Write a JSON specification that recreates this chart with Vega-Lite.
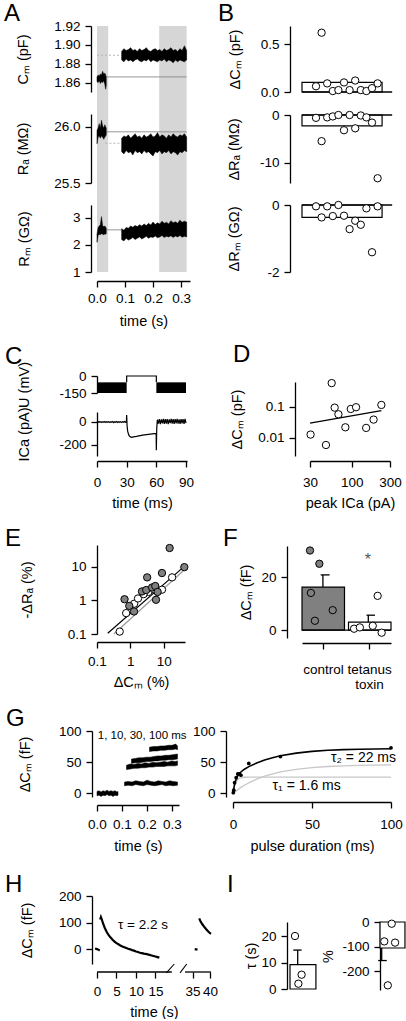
{
"$schema":"https://vega.github.io/schema/vega-lite/v6.json",
"background":"white",
"padding":{"left":4,"top":2,"right":0,"bottom":0},
"autosize":{"type":"pad"},
"spacing":0,
"resolve":{"scale":{"color":"independent","fill":"independent","strokeDash":"independent"}},
"config":{
 "font":"Liberation Sans",
 "view":{"stroke":null},
 "axis":{"grid":false,"domainColor":"black","tickColor":"black","labelColor":"black","titleColor":"black","labelFontSize":13.5,"titleFontSize":14.5,"titleFontWeight":"normal","tickSize":6,"labelPadding":5,"domainWidth":1.3,"tickWidth":1.3,"labelFlush":false},
 "title":{"fontSize":24,"fontWeight":"normal","anchor":"start","frame":"group","offset":0,"color":"black","baseline":"alphabetic"}
},
"datasets":{
 "aShade":[{"t":0,"t2":0.04},{"t":0.222,"t2":0.32}],
 "aRef":[
  {"p":"Cm","s":"solid","t":0.033,"v":1.866},{"p":"Cm","s":"solid","t":0.32,"v":1.866},
  {"p":"Cm","s":"dot","t":0,"v":1.889},{"p":"Cm","s":"dot","t":0.088,"v":1.889},
  {"p":"Ra","s":"solid","t":0.033,"v":25.957},{"p":"Ra","s":"solid","t":0.32,"v":25.957},
  {"p":"Ra","s":"dot","t":0.03,"v":25.855},{"p":"Ra","s":"dot","t":0.088,"v":25.855},
  {"p":"Rm","s":"solid","t":0.033,"v":2.56},{"p":"Rm","s":"solid","t":0.088,"v":2.56}],
 "aCm":[
  {"s":1,"t":0,"lo":1.861,"hi":1.866},{"s":1,"t":0.004,"lo":1.86,"hi":1.868},{"s":1,"t":0.008,"lo":1.862,"hi":1.867},{"s":1,"t":0.012,"lo":1.859,"hi":1.869},{"s":1,"t":0.016,"lo":1.861,"hi":1.868},{"s":1,"t":0.02,"lo":1.86,"hi":1.872},{"s":1,"t":0.024,"lo":1.862,"hi":1.869},{"s":1,"t":0.028,"lo":1.858,"hi":1.87},{"s":1,"t":0.031,"lo":1.853,"hi":1.868},{"s":1,"t":0.033,"lo":1.857,"hi":1.866},
  {"s":2,"t":0.088,"lo":1.884,"hi":1.893},{"s":2,"t":0.096,"lo":1.882,"hi":1.896},{"s":2,"t":0.104,"lo":1.885,"hi":1.894},{"s":2,"t":0.112,"lo":1.883,"hi":1.895},{"s":2,"t":0.12,"lo":1.884,"hi":1.897},{"s":2,"t":0.128,"lo":1.882,"hi":1.894},{"s":2,"t":0.136,"lo":1.884,"hi":1.895},{"s":2,"t":0.144,"lo":1.885,"hi":1.893},{"s":2,"t":0.152,"lo":1.883,"hi":1.896},{"s":2,"t":0.16,"lo":1.882,"hi":1.894},{"s":2,"t":0.168,"lo":1.884,"hi":1.895},{"s":2,"t":0.176,"lo":1.883,"hi":1.897},{"s":2,"t":0.184,"lo":1.885,"hi":1.894},{"s":2,"t":0.192,"lo":1.882,"hi":1.893},{"s":2,"t":0.2,"lo":1.884,"hi":1.895},{"s":2,"t":0.208,"lo":1.883,"hi":1.896},{"s":2,"t":0.216,"lo":1.882,"hi":1.894},{"s":2,"t":0.224,"lo":1.884,"hi":1.895},{"s":2,"t":0.232,"lo":1.883,"hi":1.893},{"s":2,"t":0.24,"lo":1.885,"hi":1.896},{"s":2,"t":0.248,"lo":1.882,"hi":1.894},{"s":2,"t":0.256,"lo":1.884,"hi":1.895},{"s":2,"t":0.264,"lo":1.883,"hi":1.897},{"s":2,"t":0.272,"lo":1.881,"hi":1.894},{"s":2,"t":0.28,"lo":1.884,"hi":1.895},{"s":2,"t":0.288,"lo":1.882,"hi":1.893},{"s":2,"t":0.296,"lo":1.884,"hi":1.896},{"s":2,"t":0.304,"lo":1.883,"hi":1.894},{"s":2,"t":0.312,"lo":1.882,"hi":1.899},{"s":2,"t":0.32,"lo":1.884,"hi":1.894}],
 "aRa":[
  {"s":1,"t":0,"lo":25.85,"hi":25.97},{"s":1,"t":0.004,"lo":25.91,"hi":25.99},{"s":1,"t":0.008,"lo":25.92,"hi":26.03},{"s":1,"t":0.012,"lo":25.9,"hi":25.99},{"s":1,"t":0.016,"lo":25.92,"hi":26.06},{"s":1,"t":0.02,"lo":25.91,"hi":26.01},{"s":1,"t":0.024,"lo":25.89,"hi":25.99},{"s":1,"t":0.028,"lo":25.91,"hi":26.02},{"s":1,"t":0.031,"lo":25.92,"hi":26.0},{"s":1,"t":0.033,"lo":25.93,"hi":25.99},
  {"s":2,"t":0.088,"lo":25.78,"hi":25.9},{"s":2,"t":0.096,"lo":25.76,"hi":25.92},{"s":2,"t":0.104,"lo":25.79,"hi":25.91},{"s":2,"t":0.112,"lo":25.77,"hi":25.93},{"s":2,"t":0.12,"lo":25.78,"hi":25.9},{"s":2,"t":0.128,"lo":25.75,"hi":25.92},{"s":2,"t":0.136,"lo":25.79,"hi":25.94},{"s":2,"t":0.144,"lo":25.77,"hi":25.91},{"s":2,"t":0.152,"lo":25.78,"hi":25.92},{"s":2,"t":0.16,"lo":25.76,"hi":25.9},{"s":2,"t":0.168,"lo":25.79,"hi":25.93},{"s":2,"t":0.176,"lo":25.77,"hi":25.91},{"s":2,"t":0.184,"lo":25.78,"hi":25.92},{"s":2,"t":0.192,"lo":25.76,"hi":25.94},{"s":2,"t":0.2,"lo":25.74,"hi":25.91},{"s":2,"t":0.208,"lo":25.78,"hi":25.92},{"s":2,"t":0.216,"lo":25.77,"hi":25.95},{"s":2,"t":0.224,"lo":25.79,"hi":25.91},{"s":2,"t":0.232,"lo":25.76,"hi":25.93},{"s":2,"t":0.24,"lo":25.78,"hi":25.92},{"s":2,"t":0.248,"lo":25.77,"hi":25.9},{"s":2,"t":0.256,"lo":25.79,"hi":25.93},{"s":2,"t":0.264,"lo":25.76,"hi":25.91},{"s":2,"t":0.272,"lo":25.78,"hi":25.94},{"s":2,"t":0.28,"lo":25.77,"hi":25.92},{"s":2,"t":0.288,"lo":25.75,"hi":25.91},{"s":2,"t":0.296,"lo":25.78,"hi":25.93},{"s":2,"t":0.304,"lo":25.77,"hi":25.92},{"s":2,"t":0.312,"lo":25.79,"hi":25.94},{"s":2,"t":0.32,"lo":25.78,"hi":25.91}],
 "aRm":[
  {"s":1,"t":0,"lo":2.1,"hi":2.4},{"s":1,"t":0.004,"lo":2.35,"hi":2.65},{"s":1,"t":0.008,"lo":2.4,"hi":2.7},{"s":1,"t":0.012,"lo":2.38,"hi":2.75},{"s":1,"t":0.016,"lo":2.42,"hi":3.05},{"s":1,"t":0.02,"lo":2.4,"hi":2.72},{"s":1,"t":0.024,"lo":2.38,"hi":2.68},{"s":1,"t":0.028,"lo":2.41,"hi":2.7},{"s":1,"t":0.031,"lo":2.4,"hi":2.66},{"s":1,"t":0.033,"lo":2.42,"hi":2.62},
  {"s":2,"t":0.088,"lo":2.2,"hi":2.6},{"s":2,"t":0.096,"lo":2.15,"hi":2.55},{"s":2,"t":0.104,"lo":2.25,"hi":2.65},{"s":2,"t":0.112,"lo":2.18,"hi":2.62},{"s":2,"t":0.12,"lo":2.22,"hi":2.7},{"s":2,"t":0.128,"lo":2.28,"hi":2.66},{"s":2,"t":0.136,"lo":2.2,"hi":2.72},{"s":2,"t":0.144,"lo":2.25,"hi":2.68},{"s":2,"t":0.152,"lo":2.3,"hi":2.75},{"s":2,"t":0.16,"lo":2.22,"hi":2.7},{"s":2,"t":0.168,"lo":2.27,"hi":2.78},{"s":2,"t":0.176,"lo":2.32,"hi":2.72},{"s":2,"t":0.184,"lo":2.25,"hi":2.8},{"s":2,"t":0.192,"lo":2.3,"hi":2.74},{"s":2,"t":0.2,"lo":2.28,"hi":2.85},{"s":2,"t":0.208,"lo":2.33,"hi":2.76},{"s":2,"t":0.216,"lo":2.27,"hi":2.82},{"s":2,"t":0.224,"lo":2.3,"hi":2.78},{"s":2,"t":0.232,"lo":2.35,"hi":2.88},{"s":2,"t":0.24,"lo":2.28,"hi":2.8},{"s":2,"t":0.248,"lo":2.32,"hi":2.84},{"s":2,"t":0.256,"lo":2.3,"hi":2.78},{"s":2,"t":0.264,"lo":2.34,"hi":2.9},{"s":2,"t":0.272,"lo":2.28,"hi":2.82},{"s":2,"t":0.28,"lo":2.33,"hi":2.86},{"s":2,"t":0.288,"lo":2.3,"hi":2.8},{"s":2,"t":0.296,"lo":2.35,"hi":2.92},{"s":2,"t":0.304,"lo":2.29,"hi":2.84},{"s":2,"t":0.312,"lo":2.32,"hi":2.88},{"s":2,"t":0.32,"lo":2.3,"hi":2.85}],
 "bBar":[{"p":"Cm","x0":-1.5,"x1":12.8,"v":0.1},{"p":"Ra","x0":-1.5,"x1":12.8,"v":-2.3},{"p":"Rm","x0":-1.5,"x1":12.8,"v":-0.37}],
 "bBase":[{"p":"Cm","x0":-1.5,"x1":14.6},{"p":"Ra","x0":-1.5,"x1":14.6},{"p":"Rm","x0":-1.5,"x1":14.6}],
 "bPts":[
  {"p":"Cm","i":1,"v":0.06},{"p":"Cm","i":2,"v":0.62},{"p":"Cm","i":3,"v":0.09},{"p":"Cm","i":4,"v":0.01},{"p":"Cm","i":5,"v":0.02},{"p":"Cm","i":6,"v":0.1},{"p":"Cm","i":7,"v":0.02},{"p":"Cm","i":8,"v":0.12},{"p":"Cm","i":9,"v":0.02},{"p":"Cm","i":10,"v":0.01},{"p":"Cm","i":11,"v":0.04},{"p":"Cm","i":12,"v":0.09},
  {"p":"Ra","i":1,"v":-0.6},{"p":"Ra","i":2,"v":-5.5},{"p":"Ra","i":3,"v":-0.5},{"p":"Ra","i":4,"v":-0.3},{"p":"Ra","i":5,"v":0},{"p":"Ra","i":6,"v":-3.2},{"p":"Ra","i":7,"v":0},{"p":"Ra","i":8,"v":-2.8},{"p":"Ra","i":9,"v":-0.1},{"p":"Ra","i":10,"v":-0.5},{"p":"Ra","i":11,"v":-1.6},{"p":"Ra","i":12,"v":-13.3},
  {"p":"Rm","i":1,"v":-0.04},{"p":"Rm","i":2,"v":-0.37},{"p":"Rm","i":3,"v":-0.04},{"p":"Rm","i":4,"v":-0.33},{"p":"Rm","i":5,"v":0},{"p":"Rm","i":6,"v":-0.32},{"p":"Rm","i":7,"v":-0.72},{"p":"Rm","i":8,"v":-0.47},{"p":"Rm","i":9,"v":-0.59},{"p":"Rm","i":10,"v":-0.1},{"p":"Rm","i":11,"v":-1.41},{"p":"Rm","i":12,"v":-0.04}],
 "cU":[{"s":1,"t":0,"lo":-150,"hi":-56},{"s":1,"t":30,"lo":-150,"hi":-56},{"s":2,"t":60,"lo":-150,"hi":-56},{"s":2,"t":90,"lo":-150,"hi":-56}],
 "cPulse":[{"k":1,"t":30,"v":-56},{"k":2,"t":30,"v":0},{"k":3,"t":60,"v":0},{"k":4,"t":60,"v":-56}],
 "cI":[{"t":0,"v":3},{"t":1,"v":-4},{"t":2,"v":4},{"t":3,"v":-3},{"t":4,"v":2},{"t":5,"v":-5},{"t":6,"v":3},{"t":7,"v":-2},{"t":8,"v":4},{"t":9,"v":-4},{"t":10,"v":2},{"t":11,"v":-3},{"t":12,"v":3},{"t":13,"v":-4},{"t":14,"v":2},{"t":15,"v":-3},{"t":16,"v":4},{"t":17,"v":-5},{"t":18,"v":2},{"t":19,"v":-3},{"t":20,"v":4},{"t":21,"v":-4},{"t":22,"v":2},{"t":23,"v":-3},{"t":24,"v":3},{"t":25,"v":-4},{"t":26,"v":3},{"t":27,"v":-3},{"t":28,"v":4},{"t":29,"v":-2},{"t":29.7,"v":0},{"t":30,"v":60},{"t":30.4,"v":-30},{"t":31,"v":-80},{"t":32,"v":-110},{"t":33,"v":-124},{"t":34,"v":-130},{"t":35,"v":-133},{"t":36,"v":-131},{"t":38,"v":-128},{"t":40,"v":-125},{"t":42,"v":-121},{"t":44,"v":-118},{"t":46,"v":-115},{"t":48,"v":-112},{"t":50,"v":-110},{"t":52,"v":-108},{"t":54,"v":-106},{"t":56,"v":-104},{"t":58,"v":-102},{"t":59.8,"v":-100},{"t":60,"v":-245},{"t":60.4,"v":-60},{"t":61,"v":20},{"t":62,"v":-15},{"t":63,"v":25},{"t":64,"v":-18},{"t":65,"v":22},{"t":66,"v":-12},{"t":67,"v":28},{"t":68,"v":-16},{"t":69,"v":24},{"t":70,"v":-14},{"t":71,"v":26},{"t":72,"v":-18},{"t":73,"v":22},{"t":74,"v":-10},{"t":75,"v":27},{"t":76,"v":-15},{"t":77,"v":24},{"t":78,"v":-17},{"t":79,"v":25},{"t":80,"v":-12},{"t":81,"v":28},{"t":82,"v":-14},{"t":83,"v":23},{"t":84,"v":-16},{"t":85,"v":26},{"t":86,"v":-13},{"t":87,"v":24},{"t":88,"v":-17},{"t":89,"v":27},{"t":90,"v":-10}],
 "dPts":[{"x":30.5,"y":0.0128},{"x":47.5,"y":0.0059},{"x":56,"y":0.59},{"x":61,"y":0.095},{"x":68,"y":0.058},{"x":83,"y":0.022},{"x":97,"y":0.086},{"x":113,"y":0.098},{"x":151,"y":0.021},{"x":187,"y":0.039},{"x":234,"y":0.116}],
 "dLine":[{"x":30,"y":0.03},{"x":234,"y":0.076}],
 "eLine":[{"c":"b","x":0.21,"y":0.105},{"c":"b","x":41.7,"y":10.4},{"c":"g","x":0.32,"y":0.1},{"c":"g","x":42,"y":8.3}],
 "ePts":[
  {"c":"w","x":0.48,"y":0.118},{"c":"w","x":0.75,"y":0.42},{"c":"w","x":1.3,"y":0.8},{"c":"w","x":1.7,"y":1.15},{"c":"w","x":3.5,"y":1.8},{"c":"w","x":5.0,"y":2.2},{"c":"w","x":8.9,"y":2.1},{"c":"w","x":17.9,"y":4.9},{"c":"w","x":2.5,"y":1.55},
  {"c":"g","x":15.1,"y":36.8},{"c":"g","x":41.7,"y":9.9},{"c":"g","x":8.9,"y":6.6},{"c":"g","x":3.2,"y":4.9},{"c":"g","x":0.67,"y":1.09},{"c":"g","x":0.93,"y":0.69},{"c":"g","x":1.29,"y":0.47},{"c":"g","x":2.24,"y":1.86},{"c":"g","x":3.0,"y":2.05},{"c":"g","x":4.5,"y":2.45},{"c":"g","x":5.6,"y":2.7},{"c":"g","x":5.9,"y":1.05},{"c":"g","x":6.6,"y":1.8}],
 "fBar":[{"g":"control","x0":0,"x1":0.955,"v":16.2},{"g":"tetanus","x0":1.045,"x1":2,"v":3.0}],
 "fBase":[{"x0":0,"x1":2}],
 "fErr":[{"x":0.47,"y0":16.2,"y1":20.8},{"x":1.49,"y0":3.0,"y1":5.6}],
 "fCap":[{"x0":0.42,"x1":0.62,"y":20.8},{"x0":1.45,"x1":1.64,"y":5.6}],
 "fPts":[{"g":"control","x":0.18,"y":30},{"g":"control","x":0.39,"y":25},{"g":"control","x":0.2,"y":14},{"g":"control","x":0.29,"y":3.5},{"g":"control","x":0.69,"y":7.5},{"g":"tetanus","x":1.17,"y":0.5},{"g":"tetanus","x":1.3,"y":1.0},{"g":"tetanus","x":1.59,"y":1.6},{"g":"tetanus","x":1.7,"y":12.9},{"g":"tetanus","x":1.79,"y":-1.0}],
 "fStar":[{"x":1.48,"y":26.4,"txt":"*"}],
 "gBand":[
  {"s":"b","t":0,"lo":-4,"hi":3},{"s":"b","t":0.008,"lo":-3,"hi":4},{"s":"b","t":0.016,"lo":-5,"hi":2},{"s":"b","t":0.024,"lo":-3,"hi":4},{"s":"b","t":0.032,"lo":-4,"hi":3},{"s":"b","t":0.04,"lo":-2,"hi":5},{"s":"b","t":0.048,"lo":-4,"hi":3},{"s":"b","t":0.056,"lo":-3,"hi":4},{"s":"b","t":0.064,"lo":-5,"hi":3},{"s":"b","t":0.072,"lo":-3,"hi":4},{"s":"b","t":0.08,"lo":-4,"hi":2},{"s":"b","t":0.084,"lo":-3,"hi":3},
  {"s":"1","t":0.11,"lo":12,"hi":18},{"s":"1","t":0.125,"lo":13,"hi":19},{"s":"1","t":0.14,"lo":12,"hi":18},{"s":"1","t":0.155,"lo":14,"hi":20},{"s":"1","t":0.17,"lo":13,"hi":19},{"s":"1","t":0.185,"lo":12,"hi":18},{"s":"1","t":0.2,"lo":14,"hi":21},{"s":"1","t":0.215,"lo":13,"hi":19},{"s":"1","t":0.23,"lo":12,"hi":18},{"s":"1","t":0.245,"lo":13,"hi":20},{"s":"1","t":0.26,"lo":14,"hi":19},{"s":"1","t":0.275,"lo":12,"hi":18},{"s":"1","t":0.29,"lo":13,"hi":20},{"s":"1","t":0.305,"lo":12,"hi":19},{"s":"1","t":0.322,"lo":13,"hi":18},
  {"s":"10","t":0.118,"lo":38,"hi":45},{"s":"10","t":0.133,"lo":39,"hi":47},{"s":"10","t":0.148,"lo":40,"hi":46},{"s":"10","t":0.163,"lo":40,"hi":48},{"s":"10","t":0.178,"lo":41,"hi":47},{"s":"10","t":0.193,"lo":41,"hi":49},{"s":"10","t":0.208,"lo":42,"hi":48},{"s":"10","t":0.223,"lo":42,"hi":50},{"s":"10","t":0.238,"lo":43,"hi":49},{"s":"10","t":0.253,"lo":43,"hi":50},{"s":"10","t":0.268,"lo":43,"hi":51},{"s":"10","t":0.283,"lo":44,"hi":50},{"s":"10","t":0.298,"lo":44,"hi":52},{"s":"10","t":0.313,"lo":44,"hi":51},{"s":"10","t":0.322,"lo":45,"hi":52},
  {"s":"30","t":0.138,"lo":48,"hi":55},{"s":"30","t":0.153,"lo":49,"hi":56},{"s":"30","t":0.168,"lo":49,"hi":57},{"s":"30","t":0.183,"lo":50,"hi":57},{"s":"30","t":0.198,"lo":51,"hi":58},{"s":"30","t":0.213,"lo":51,"hi":58},{"s":"30","t":0.228,"lo":52,"hi":59},{"s":"30","t":0.243,"lo":52,"hi":60},{"s":"30","t":0.258,"lo":53,"hi":60},{"s":"30","t":0.273,"lo":53,"hi":61},{"s":"30","t":0.288,"lo":54,"hi":61},{"s":"30","t":0.303,"lo":54,"hi":62},{"s":"30","t":0.322,"lo":55,"hi":63},
  {"s":"100","t":0.21,"lo":67,"hi":74},{"s":"100","t":0.225,"lo":68,"hi":75},{"s":"100","t":0.24,"lo":68,"hi":75},{"s":"100","t":0.255,"lo":69,"hi":76},{"s":"100","t":0.27,"lo":69,"hi":76},{"s":"100","t":0.285,"lo":70,"hi":77},{"s":"100","t":0.3,"lo":70,"hi":77},{"s":"100","t":0.315,"lo":71,"hi":79},{"s":"100","t":0.322,"lo":70,"hi":76}],
 "gLab":[{"t":0.003,"v":92,"txt":"1, 10, 30, 100 ms"}],
 "gFit":[
  {"c":"sum","t":0,"v":0},{"c":"sum","t":0.5,"v":8.0},{"c":"sum","t":1,"v":14.1},{"c":"sum","t":1.5,"v":18.9},{"c":"sum","t":2,"v":22.6},{"c":"sum","t":3,"v":27.9},{"c":"sum","t":4,"v":31.5},{"c":"sum","t":5,"v":34.2},{"c":"sum","t":7,"v":38.2},{"c":"sum","t":10,"v":42.8},{"c":"sum","t":15,"v":48.7},{"c":"sum","t":20,"v":53.5},{"c":"sum","t":25,"v":57.2},{"c":"sum","t":30,"v":60.2},{"c":"sum","t":40,"v":64.5},{"c":"sum","t":50,"v":67.3},{"c":"sum","t":60,"v":69.0},{"c":"sum","t":70,"v":70.1},{"c":"sum","t":80,"v":70.8},{"c":"sum","t":90,"v":71.2},{"c":"sum","t":100,"v":71.5},
  {"c":"t1","t":0,"v":0},{"c":"t1","t":0.5,"v":7.0},{"c":"t1","t":1,"v":12.1},{"c":"t1","t":1.5,"v":15.8},{"c":"t1","t":2,"v":18.6},{"c":"t1","t":3,"v":22.0},{"c":"t1","t":4,"v":23.9},{"c":"t1","t":5,"v":24.9},{"c":"t1","t":7,"v":25.7},{"c":"t1","t":10,"v":26.0},{"c":"t1","t":100,"v":26.0},
  {"c":"t2","t":0,"v":0},{"c":"t2","t":5,"v":9.4},{"c":"t2","t":10,"v":16.8},{"c":"t2","t":15,"v":22.7},{"c":"t2","t":20,"v":27.5},{"c":"t2","t":30,"v":34.2},{"c":"t2","t":40,"v":38.5},{"c":"t2","t":50,"v":41.3},{"c":"t2","t":60,"v":43.0},{"c":"t2","t":70,"v":44.1},{"c":"t2","t":80,"v":44.8},{"c":"t2","t":90,"v":45.2},{"c":"t2","t":100,"v":45.5}],
 "gPts":[{"t":0.2,"v":1},{"t":0.5,"v":5},{"t":1,"v":17},{"t":2,"v":25},{"t":3,"v":31},{"t":4,"v":31},{"t":5,"v":29},{"t":10,"v":48},{"t":30,"v":59},{"t":100,"v":73}],
 "gTau":[{"t":62,"v":57,"txt":"τ₂ = 22 ms"},{"t":25,"v":12,"txt":"τ₁ = 1.6 ms"}],
 "hTrace":[
  {"s":"a","t":-0.5,"v":3},{"s":"a","t":0,"v":1},{"s":"a","t":0.4,"v":-2},{"s":"a","t":0.7,"v":-4},
  {"s":"b","t":0.8,"v":112},{"s":"b","t":1.0,"v":121},{"s":"b","t":1.2,"v":113},{"s":"b","t":1.6,"v":95},{"s":"b","t":2.0,"v":80},{"s":"b","t":2.5,"v":65},{"s":"b","t":3.0,"v":53},{"s":"b","t":3.5,"v":44},{"s":"b","t":4.0,"v":36},{"s":"b","t":4.5,"v":29},{"s":"b","t":5.0,"v":23},{"s":"b","t":5.5,"v":19},{"s":"b","t":6.0,"v":14},{"s":"b","t":6.5,"v":11},{"s":"b","t":7.0,"v":8},{"s":"b","t":7.5,"v":5},{"s":"b","t":8.0,"v":2},{"s":"b","t":8.5,"v":0},{"s":"b","t":9.0,"v":-3},{"s":"b","t":9.5,"v":-5},{"s":"b","t":10.0,"v":-8},{"s":"b","t":10.5,"v":-10},{"s":"b","t":11.0,"v":-13},{"s":"b","t":11.5,"v":-14},{"s":"b","t":12.0,"v":-16},{"s":"b","t":12.5,"v":-17},{"s":"b","t":13.0,"v":-19},{"s":"b","t":13.5,"v":-21},{"s":"b","t":14.0,"v":-23},{"s":"b","t":14.5,"v":-25},{"s":"b","t":15.0,"v":-27},{"s":"b","t":15.5,"v":-29},{"s":"b","t":16.0,"v":-31},
  {"s":"c","t":35.6,"v":1},{"s":"c","t":36.4,"v":-1},
  {"s":"d","t":36.9,"v":116},{"s":"d","t":37.3,"v":104},{"s":"d","t":37.8,"v":94},{"s":"d","t":38.3,"v":85},{"s":"d","t":38.8,"v":77},{"s":"d","t":39.3,"v":70},{"s":"d","t":39.8,"v":63},{"s":"d","t":40.3,"v":58}],
 "hAx":[{"x0":0,"x1":19.2},{"x0":32.8,"x1":40.3}],
 "hSl":[{"x0":17.8,"x1":20.9,"y0":-88,"y1":-55},{"x0":27.3,"x1":33.3,"y0":-88,"y1":-55}],
 "hTau":[{"t":11.8,"v":92,"txt":"τ = 2.2 s"}],
 "iBar":[{"p":"t","x0":0,"x1":0.96,"v":9.2},{"p":"p","x0":0,"x1":0.96,"v":-106}],
 "iErr":[{"p":"t","x":0.285,"y0":9.2,"y1":14.7},{"p":"p","x":0.065,"y0":-106,"y1":-157}],
 "iCap":[{"p":"t","x0":0.12,"x1":0.43,"y":14.7},{"p":"p","x0":-0.07,"x1":0.26,"y":-157}],
 "iPts":[{"p":"t","x":0.185,"y":20},{"p":"t","x":0.43,"y":5.4},{"p":"t","x":0.31,"y":2},{"p":"p","x":0.45,"y":-7},{"p":"p","x":0.165,"y":-79},{"p":"p","x":0.58,"y":-84},{"p":"p","x":0.3,"y":-258}]
},
"vconcat":[
 {"hconcat":[
  {"title":{"text":"A","dx":-93,"dy":11},"width":93,"height":246,
   "resolve":{"scale":{"y":"independent"},"axis":{"y":"independent","x":"independent"}},
   "layer":[
    {"data":{"name":"aShade"},"mark":{"type":"rect","color":"#d6d6d6"},
     "encoding":{"x":{"field":"t","type":"quantitative","scale":{"domain":[0,0.332],"nice":false,"zero":false},"axis":{"orient":"bottom","values":[0,0.3],"format":".1f","title":"time (s)","offset":9,"labelPadding":4,"titlePadding":10,"labelOverlap":false,"labelFlush":false}},"x2":{"field":"t2"}}},
    {"layer":[
     {"data":{"name":"aRef"},"transform":[{"filter":"datum.p==='Cm'"}],"mark":{"type":"line","strokeWidth":1},
      "encoding":{"x":{"field":"t","type":"quantitative","scale":{"domain":[0,0.332],"nice":false,"zero":false},"axis":{"orient":"bottom","values":[0.1,0.2],"format":".1f","title":null,"domain":false,"offset":9,"labelPadding":4,"labelOverlap":false,"labelFlush":false}},
       "y":{"field":"v","type":"quantitative","scale":{"domain":[1.85,1.92],"range":[66,0],"nice":false,"zero":false},"axis":{"orient":"left","offset":6,"values":[1.86,1.88,1.9,1.92],"format":".2f","title":"Cₘ (pF)","titlePadding":23,"labelOverlap":false,"labelFlush":false}},
       "color":{"field":"s","type":"nominal","scale":{"domain":["solid","dot"],"range":["#8a8a8a","#b5b5b5"]},"legend":null},
       "strokeDash":{"field":"s","type":"nominal","scale":{"domain":["solid","dot"],"range":[[1,0],[2,2]]},"legend":null}}},
     {"data":{"name":"aCm"},"mark":{"type":"area","color":"black","stroke":"black","strokeWidth":0.5},
      "encoding":{"x":{"field":"t","type":"quantitative","scale":{"domain":[0,0.332],"nice":false,"zero":false}},"y":{"field":"lo","type":"quantitative","scale":{"domain":[1.85,1.92],"range":[66,0],"nice":false,"zero":false}},"y2":{"field":"hi"},"detail":{"field":"s","type":"nominal"}}}
    ]},
    {"layer":[
     {"data":{"name":"aRef"},"transform":[{"filter":"datum.p==='Ra'"}],"mark":{"type":"line","strokeWidth":1},
      "encoding":{"x":{"field":"t","type":"quantitative","scale":{"domain":[0,0.332],"nice":false,"zero":false},"axis":null},
       "y":{"field":"v","type":"quantitative","scale":{"domain":[25.5,26.116],"range":[157,88],"nice":false,"zero":false},"axis":{"orient":"left","offset":6,"values":[25.5,26.0],"format":".1f","title":"Rₐ (MΩ)","titlePadding":23,"labelOverlap":false,"labelFlush":false}},
       "color":{"field":"s","type":"nominal","scale":{"domain":["solid","dot"],"range":["#8a8a8a","#b5b5b5"]},"legend":null},
       "strokeDash":{"field":"s","type":"nominal","scale":{"domain":["solid","dot"],"range":[[1,0],[2,2]]},"legend":null}}},
     {"data":{"name":"aRa"},"mark":{"type":"area","color":"black","stroke":"black","strokeWidth":0.5},
      "encoding":{"x":{"field":"t","type":"quantitative","scale":{"domain":[0,0.332],"nice":false,"zero":false},"axis":null},"y":{"field":"lo","type":"quantitative","scale":{"domain":[25.5,26.116],"range":[157,88],"nice":false,"zero":false}},"y2":{"field":"hi"},"detail":{"field":"s","type":"nominal"}}}
    ]},
    {"layer":[
     {"data":{"name":"aRef"},"transform":[{"filter":"datum.p==='Rm'"}],"mark":{"type":"line","strokeWidth":1},
      "encoding":{"x":{"field":"t","type":"quantitative","scale":{"domain":[0,0.332],"nice":false,"zero":false},"axis":null},
       "y":{"field":"v","type":"quantitative","scale":{"domain":[1,3.48],"range":[246,179],"nice":false,"zero":false},"axis":{"orient":"left","offset":6,"values":[1,2,3],"format":"d","title":"Rₘ (GΩ)","titlePadding":41,"labelOverlap":false,"labelFlush":false}},
       "color":{"field":"s","type":"nominal","scale":{"domain":["solid","dot"],"range":["#8a8a8a","#b5b5b5"]},"legend":null},
       "strokeDash":{"field":"s","type":"nominal","scale":{"domain":["solid","dot"],"range":[[1,0],[2,2]]},"legend":null}}},
     {"data":{"name":"aRm"},"mark":{"type":"area","color":"black","stroke":"black","strokeWidth":0.5},
      "encoding":{"x":{"field":"t","type":"quantitative","scale":{"domain":[0,0.332],"nice":false,"zero":false},"axis":null},"y":{"field":"lo","type":"quantitative","scale":{"domain":[1,3.48],"range":[246,179],"nice":false,"zero":false}},"y2":{"field":"hi"},"detail":{"field":"s","type":"nominal"}}}
    ]}
   ]},
  {"title":{"text":"B","dx":-78,"dy":4},"width":100,"height":246,
   "resolve":{"scale":{"y":"independent"},"axis":{"y":"independent"}},
   "layer":[
    {"layer":[
     {"data":{"name":"bBar"},"transform":[{"filter":"datum.p==='Cm'"}],"mark":{"type":"rect","fill":"white","stroke":"black","strokeWidth":1.2},
      "encoding":{"x":{"field":"x0","type":"quantitative","scale":{"domain":[-2.571,15.286],"nice":false,"zero":false},"axis":null},"x2":{"field":"x1"},
       "y":{"field":"v","type":"quantitative","scale":{"domain":[0,0.69],"range":[66,0],"nice":false,"zero":false},"axis":{"orient":"left","offset":6,"values":[0,0.5],"format":".1f","title":"ΔCₘ (pF)","titlePadding":18,"labelOverlap":false,"labelFlush":false}},"y2":{"datum":0}}},
     {"data":{"name":"bBase"},"transform":[{"filter":"datum.p==='Cm'"}],"mark":{"type":"rule","color":"black","strokeWidth":1.3},
      "encoding":{"x":{"field":"x0","type":"quantitative","scale":{"domain":[-2.571,15.286],"nice":false,"zero":false},"axis":null},"x2":{"field":"x1"},"y":{"datum":0,"type":"quantitative","scale":{"domain":[0,0.69],"range":[66,0],"nice":false,"zero":false}}}},
     {"data":{"name":"bPts"},"transform":[{"filter":"datum.p==='Cm'"}],"mark":{"type":"point","shape":"circle","filled":true,"fill":"white","stroke":"black","strokeWidth":1,"size":54,"opacity":1},
      "encoding":{"x":{"field":"i","type":"quantitative","scale":{"domain":[-2.571,15.286],"nice":false,"zero":false},"axis":null},"y":{"field":"v","type":"quantitative","scale":{"domain":[0,0.69],"range":[66,0],"nice":false,"zero":false}}}}
    ]},
    {"layer":[
     {"data":{"name":"bBar"},"transform":[{"filter":"datum.p==='Ra'"}],"mark":{"type":"rect","fill":"white","stroke":"black","strokeWidth":1.2},
      "encoding":{"x":{"field":"x0","type":"quantitative","scale":{"domain":[-2.571,15.286],"nice":false,"zero":false},"axis":null},"x2":{"field":"x1"},
       "y":{"field":"v","type":"quantitative","scale":{"domain":[-14.3,0],"range":[157,89],"nice":false,"zero":false},"axis":{"orient":"left","offset":6,"values":[-10,0],"labelExpr":"''+datum.value","title":"ΔRₐ (MΩ)","titlePadding":18,"labelOverlap":false,"labelFlush":false}},"y2":{"datum":0}}},
     {"data":{"name":"bBase"},"transform":[{"filter":"datum.p==='Ra'"}],"mark":{"type":"rule","color":"black","strokeWidth":1.3},
      "encoding":{"x":{"field":"x0","type":"quantitative","scale":{"domain":[-2.571,15.286],"nice":false,"zero":false},"axis":null},"x2":{"field":"x1"},"y":{"datum":0,"type":"quantitative","scale":{"domain":[-14.3,0],"range":[157,89],"nice":false,"zero":false}}}},
     {"data":{"name":"bPts"},"transform":[{"filter":"datum.p==='Ra'"}],"mark":{"type":"point","shape":"circle","filled":true,"fill":"white","stroke":"black","strokeWidth":1,"size":54,"opacity":1},
      "encoding":{"x":{"field":"i","type":"quantitative","scale":{"domain":[-2.571,15.286],"nice":false,"zero":false},"axis":null},"y":{"field":"v","type":"quantitative","scale":{"domain":[-14.3,0],"range":[157,89],"nice":false,"zero":false}}}}
    ]},
    {"layer":[
     {"data":{"name":"bBar"},"transform":[{"filter":"datum.p==='Rm'"}],"mark":{"type":"rect","fill":"white","stroke":"black","strokeWidth":1.2},
      "encoding":{"x":{"field":"x0","type":"quantitative","scale":{"domain":[-2.571,15.286],"nice":false,"zero":false},"axis":null},"x2":{"field":"x1"},
       "y":{"field":"v","type":"quantitative","scale":{"domain":[-2,0],"range":[246,179],"nice":false,"zero":false},"axis":{"orient":"left","offset":6,"values":[-2,0],"labelExpr":"''+datum.value","title":"ΔRₘ (GΩ)","titlePadding":25,"labelOverlap":false,"labelFlush":false}},"y2":{"datum":0}}},
     {"data":{"name":"bBase"},"transform":[{"filter":"datum.p==='Rm'"}],"mark":{"type":"rule","color":"black","strokeWidth":1.3},
      "encoding":{"x":{"field":"x0","type":"quantitative","scale":{"domain":[-2.571,15.286],"nice":false,"zero":false},"axis":null},"x2":{"field":"x1"},"y":{"datum":0,"type":"quantitative","scale":{"domain":[-2,0],"range":[246,179],"nice":false,"zero":false}}}},
     {"data":{"name":"bPts"},"transform":[{"filter":"datum.p==='Rm'"}],"mark":{"type":"point","shape":"circle","filled":true,"fill":"white","stroke":"black","strokeWidth":1,"size":54,"opacity":1},
      "encoding":{"x":{"field":"i","type":"quantitative","scale":{"domain":[-2.571,15.286],"nice":false,"zero":false},"axis":null},"y":{"field":"v","type":"quantitative","scale":{"domain":[-2,0],"range":[246,179],"nice":false,"zero":false}}}}
    ]}
   ]}
 ],"spacing":106,"bounds":"flush","resolve":{"scale":{"color":"independent","fill":"independent","strokeDash":"independent"}}},
 {"hconcat":[
  {"title":{"text":"C","dx":-92,"dy":45},"width":90,"height":128,
   "resolve":{"scale":{"y":"independent"},"axis":{"y":"independent","x":"independent"}},
   "layer":[
    {"layer":[
     {"data":{"name":"cU"},"mark":{"type":"area","color":"black"},
      "encoding":{"x":{"field":"t","type":"quantitative","scale":{"domain":[0,91],"nice":false,"zero":false},"axis":{"orient":"bottom","values":[0,60],"title":"time (ms)","offset":5,"labelPadding":8,"titlePadding":8,"labelOverlap":false,"labelFlush":false}},
       "y":{"field":"lo","type":"quantitative","scale":{"domain":[-150,0],"range":[65,48],"nice":false,"zero":false},"axis":{"orient":"left","offset":0,"values":[-150,0],"labelExpr":"''+datum.value","title":"U (mV)","titlePadding":27,"labelOverlap":false,"labelFlush":false}},"y2":{"field":"hi"},"detail":{"field":"s","type":"nominal"}}},
     {"data":{"name":"cPulse"},"mark":{"type":"line","color":"black","strokeWidth":1.2},
      "encoding":{"x":{"field":"t","type":"quantitative","scale":{"domain":[0,91],"nice":false,"zero":false}},"y":{"field":"v","type":"quantitative","scale":{"domain":[-150,0],"range":[65,48],"nice":false,"zero":false}},"order":{"field":"k","type":"quantitative"}}}
    ]},
    {"data":{"name":"cI"},"mark":{"type":"line","color":"black","strokeWidth":1.2},
     "encoding":{"x":{"field":"t","type":"quantitative","scale":{"domain":[0,91],"nice":false,"zero":false},"axis":{"orient":"bottom","values":[30,90],"title":null,"domain":false,"offset":5,"labelPadding":8,"labelOverlap":false,"labelFlush":false}},"y":{"field":"v","type":"quantitative","scale":{"domain":[-296,87],"range":[128,84],"nice":false,"zero":false},"axis":{"orient":"left","offset":0,"values":[-200,0],"labelExpr":"''+datum.value","title":"ICa (pA)","titlePadding":27,"labelOverlap":false,"labelFlush":false}}}}
   ]},
  {"title":{"text":"D","dx":-77,"dy":43},"width":80,"height":128,
   "layer":[
    {"data":{"name":"dLine"},"mark":{"type":"line","color":"black","strokeWidth":1.3},
     "encoding":{"x":{"field":"x","type":"quantitative","scale":{"type":"log","domain":[30,300],"nice":false},"axis":{"values":[30,100,300],"format":"~g","title":"peak ICa (pA)","offset":5,"labelPadding":8,"titlePadding":8,"labelOverlap":false,"labelFlush":false}},
      "y":{"field":"y","type":"quantitative","scale":{"type":"log","domain":[0.0026,0.64],"range":[128,54],"nice":false},"axis":{"offset":15,"values":[0.01,0.1],"format":"~g","title":"ΔCₘ (pF)","titlePadding":13,"labelOverlap":false,"labelFlush":false}}}},
    {"data":{"name":"dPts"},"mark":{"type":"point","shape":"circle","filled":true,"fill":"white","stroke":"black","strokeWidth":1,"size":54,"opacity":1},
     "encoding":{"x":{"field":"x","type":"quantitative","scale":{"type":"log","domain":[30,300],"nice":false}},"y":{"field":"y","type":"quantitative","scale":{"type":"log","domain":[0.0026,0.64],"range":[128,54],"nice":false}}}}
   ]}
 ],"spacing":123,"bounds":"flush","resolve":{"scale":{"color":"independent","fill":"independent","strokeDash":"independent"}}},
 {"hconcat":[
  {"title":{"text":"E","dx":-92,"dy":45},"width":88,"height":124,
   "layer":[
    {"data":{"name":"eLine"},"mark":{"type":"line","strokeWidth":1.2},
     "encoding":{"x":{"field":"x","type":"quantitative","scale":{"type":"log","domain":[0.1,43.7],"nice":false},"axis":{"values":[0.1,1,10],"format":"~g","title":"ΔCₘ (%)","offset":8,"labelPadding":6,"titlePadding":8,"labelOverlap":false,"labelFlush":false}},
      "y":{"field":"y","type":"quantitative","scale":{"type":"log","domain":[0.1,45.3],"range":[124,35],"nice":false},"axis":{"offset":0,"values":[0.1,1,10],"format":"~g","title":"-ΔRₐ (%)","titlePadding":33,"labelOverlap":false,"labelFlush":false}},
      "color":{"field":"c","type":"nominal","scale":{"domain":["b","g"],"range":["black","#999999"]},"legend":null}}},
    {"data":{"name":"ePts"},"mark":{"type":"point","shape":"circle","filled":true,"stroke":"black","strokeWidth":1,"size":54,"opacity":1},
     "encoding":{"x":{"field":"x","type":"quantitative","scale":{"type":"log","domain":[0.1,43.7],"nice":false}},"y":{"field":"y","type":"quantitative","scale":{"type":"log","domain":[0.1,45.3],"range":[124,35],"nice":false}},
      "fill":{"field":"c","type":"nominal","scale":{"domain":["w","g"],"range":["white","#808080"]},"legend":null}}}
   ]},
  {"title":{"text":"F","dx":-79,"dy":45},"width":89,"height":128,
   "layer":[
    {"data":{"name":"fBar"},"mark":{"type":"rect","stroke":"black","strokeWidth":1.2},
     "encoding":{"x":{"field":"x0","type":"quantitative","scale":{"domain":[0,2],"nice":false,"zero":false},"axis":{"values":[0.472,1.506],"labelExpr":"datum.value < 1 ? 'control' : ['tetanus','toxin']","title":null,"offset":5,"labelPadding":13,"labelLineHeight":15,"labelOverlap":false,"labelFlush":false}},"x2":{"field":"x1"},
      "y":{"field":"v","type":"quantitative","scale":{"domain":[-3,31.7],"range":[128,36],"nice":false,"zero":false},"axis":{"offset":15,"values":[0,20],"title":"ΔCₘ (fF)","titlePadding":7,"labelOverlap":false,"labelFlush":false}},"y2":{"datum":0},
      "fill":{"field":"g","type":"nominal","scale":{"domain":["control","tetanus"],"range":["#808080","white"]},"legend":null}}},
    {"data":{"name":"fBase"},"mark":{"type":"rule","color":"black","strokeWidth":1.3},
     "encoding":{"x":{"field":"x0","type":"quantitative","scale":{"domain":[0,2],"nice":false,"zero":false}},"x2":{"field":"x1"},"y":{"datum":0,"type":"quantitative","scale":{"domain":[-3,31.7],"range":[128,36],"nice":false,"zero":false}}}},
    {"data":{"name":"fErr"},"mark":{"type":"rule","color":"black","strokeWidth":1.3},
     "encoding":{"x":{"field":"x","type":"quantitative","scale":{"domain":[0,2],"nice":false,"zero":false}},"y":{"field":"y0","type":"quantitative","scale":{"domain":[-3,31.7],"range":[128,36],"nice":false,"zero":false}},"y2":{"field":"y1"}}},
    {"data":{"name":"fCap"},"mark":{"type":"rule","color":"black","strokeWidth":1.3},
     "encoding":{"x":{"field":"x0","type":"quantitative","scale":{"domain":[0,2],"nice":false,"zero":false}},"x2":{"field":"x1"},"y":{"field":"y","type":"quantitative","scale":{"domain":[-3,31.7],"range":[128,36],"nice":false,"zero":false}}}},
    {"data":{"name":"fPts"},"mark":{"type":"point","shape":"circle","filled":true,"stroke":"black","strokeWidth":1,"size":54,"opacity":1},
     "encoding":{"x":{"field":"x","type":"quantitative","scale":{"domain":[0,2],"nice":false,"zero":false}},"y":{"field":"y","type":"quantitative","scale":{"domain":[-3,31.7],"range":[128,36],"nice":false,"zero":false}},
      "fill":{"field":"g","type":"nominal","scale":{"domain":["control","tetanus"],"range":["#808080","white"]},"legend":null}}},
    {"data":{"name":"fStar"},"mark":{"type":"text","fontSize":16,"color":"#555555","baseline":"middle"},
     "encoding":{"x":{"field":"x","type":"quantitative","scale":{"domain":[0,2],"nice":false,"zero":false}},"y":{"field":"y","type":"quantitative","scale":{"domain":[-3,31.7],"range":[128,36],"nice":false,"zero":false}},"text":{"field":"txt"}}}
   ]}
 ],"spacing":117,"bounds":"flush","resolve":{"scale":{"color":"independent","fill":"independent","strokeDash":"independent"}}},
 {"hconcat":[
  {"title":{"text":"G","dx":-91,"dy":44},"width":82,"height":106,
   "resolve":{"axis":{"x":"independent"}},
   "layer":[
    {"data":{"name":"gBand"},"mark":{"type":"area","color":"black","stroke":"black","strokeWidth":0.5},
     "encoding":{"x":{"field":"t","type":"quantitative","scale":{"domain":[0,0.328],"nice":false,"zero":false},"axis":{"orient":"bottom","values":[0,0.2],"format":".1f","title":"time (s)","offset":8,"labelPadding":6,"titlePadding":9,"labelOverlap":false,"labelFlush":false}},
      "y":{"field":"lo","type":"quantitative","scale":{"domain":[-6,100],"range":[106,40],"nice":false,"zero":false},"axis":{"offset":5,"values":[0,50,100],"title":"ΔCₘ (fF)","titlePadding":26,"labelOverlap":false,"labelFlush":false}},"y2":{"field":"hi"},"detail":{"field":"s","type":"nominal"}}},
    {"data":{"name":"gLab"},"mark":{"type":"text","align":"left","baseline":"middle","fontSize":11.5},
     "encoding":{"x":{"field":"t","type":"quantitative","scale":{"domain":[0,0.328],"nice":false,"zero":false},"axis":{"orient":"bottom","values":[0.1,0.3],"format":".1f","title":null,"domain":false,"offset":8,"labelPadding":6,"labelOverlap":false,"labelFlush":false}},"y":{"field":"v","type":"quantitative","scale":{"domain":[-6,100],"range":[106,40],"nice":false,"zero":false}},"text":{"field":"txt"}}}
   ]},
  {"width":158,"height":106,
   "layer":[
    {"data":{"name":"gFit"},"transform":[{"filter":"datum.c!=='sum'"}],"mark":{"type":"line","color":"#c8c8c8","strokeWidth":1.3},
     "encoding":{"x":{"field":"t","type":"quantitative","scale":{"domain":[0,100],"nice":false,"zero":false},"axis":{"values":[0,50,100],"title":"pulse duration (ms)","offset":5,"labelPadding":9,"titlePadding":9,"labelOverlap":false,"labelFlush":false}},
      "y":{"field":"v","type":"quantitative","scale":{"domain":[-6,100],"range":[106,40],"nice":false,"zero":false},"axis":{"offset":7,"values":[0,50,100],"title":null,"labelOverlap":false,"labelFlush":false}},"detail":{"field":"c","type":"nominal"}}},
    {"data":{"name":"gFit"},"transform":[{"filter":"datum.c==='sum'"}],"mark":{"type":"line","color":"black","strokeWidth":1.6},
     "encoding":{"x":{"field":"t","type":"quantitative","scale":{"domain":[0,100],"nice":false,"zero":false}},"y":{"field":"v","type":"quantitative","scale":{"domain":[-6,100],"range":[106,40],"nice":false,"zero":false}}}},
    {"data":{"name":"gPts"},"mark":{"type":"circle","color":"black","size":14,"opacity":1},
     "encoding":{"x":{"field":"t","type":"quantitative","scale":{"domain":[0,100],"nice":false,"zero":false}},"y":{"field":"v","type":"quantitative","scale":{"domain":[-6,100],"range":[106,40],"nice":false,"zero":false}}}},
    {"data":{"name":"gTau"},"mark":{"type":"text","align":"left","baseline":"middle","fontSize":14},
     "encoding":{"x":{"field":"t","type":"quantitative","scale":{"domain":[0,100],"nice":false,"zero":false}},"y":{"field":"v","type":"quantitative","scale":{"domain":[-6,100],"range":[106,40],"nice":false,"zero":false}},"text":{"field":"txt"}}}
   ]}
 ],"spacing":54,"bounds":"flush","resolve":{"scale":{"color":"independent","fill":"independent","strokeDash":"independent"}}},
 {"hconcat":[
  {"title":{"text":"H","dx":-92,"dy":48},"width":130,"height":111,
   "resolve":{"axis":{"x":"independent"}},
   "layer":[
    {"data":{"name":"hTrace"},"mark":{"type":"line","color":"black","strokeWidth":2.2},
     "encoding":{"x":{"field":"t","type":"quantitative","scale":{"domain":[0,19.5,32.8,40.3],"range":[0,76,88,114],"nice":false,"zero":false},"axis":{"orient":"bottom","values":[0,10],"domain":false,"title":"time (s)","offset":8,"labelPadding":6,"titlePadding":8,"labelOverlap":false,"labelFlush":false}},
      "y":{"field":"v","type":"quantitative","scale":{"domain":[-55,200],"range":[111,43],"nice":false,"zero":false},"axis":{"offset":5,"values":[0,100,200],"title":"ΔCₘ (fF)","titlePadding":24,"labelOverlap":false,"labelFlush":false}},"detail":{"field":"s","type":"nominal"}}},
    {"data":{"name":"hAx"},"mark":{"type":"rule","color":"black","strokeWidth":1.3},
     "encoding":{"x":{"field":"x0","type":"quantitative","scale":{"domain":[0,19.5,32.8,40.3],"range":[0,76,88,114],"nice":false,"zero":false},"axis":{"orient":"bottom","values":[5,15],"domain":false,"title":null,"offset":8,"labelPadding":6,"labelOverlap":false,"labelFlush":false}},"x2":{"field":"x1"},"y":{"datum":-85,"type":"quantitative","scale":{"domain":[-55,200],"range":[111,43],"nice":false,"zero":false}}}},
    {"data":{"name":"hSl"},"mark":{"type":"rule","color":"black","strokeWidth":1.1},
     "encoding":{"x":{"field":"x0","type":"quantitative","scale":{"domain":[0,19.5,32.8,40.3],"range":[0,76,88,114],"nice":false,"zero":false},"axis":{"orient":"bottom","values":[35,40],"domain":false,"title":null,"offset":8,"labelPadding":6,"labelOverlap":false,"labelFlush":false}},"x2":{"field":"x1"},"y":{"field":"y0","type":"quantitative","scale":{"domain":[-55,200],"range":[111,43],"nice":false,"zero":false}},"y2":{"field":"y1"}}},
    {"data":{"name":"hTau"},"mark":{"type":"text","align":"center","baseline":"middle","fontSize":13.5},
     "encoding":{"x":{"field":"t","type":"quantitative","scale":{"domain":[0,19.5,32.8,40.3],"range":[0,76,88,114],"nice":false,"zero":false},"axis":null},"y":{"field":"v","type":"quantitative","scale":{"domain":[-55,200],"range":[111,43],"nice":false,"zero":false}},"text":{"field":"txt"}}}
   ]},
  {"title":{"text":"I","dx":-63,"dy":48},"width":27,"height":137,
   "layer":[
    {"data":{"name":"iBar"},"transform":[{"filter":"datum.p==='t'"}],"mark":{"type":"rect","fill":"white","stroke":"black","strokeWidth":1.2},
     "encoding":{"x":{"field":"x0","type":"quantitative","scale":{"domain":[0,1],"nice":false,"zero":false},"axis":null},"x2":{"field":"x1"},
      "y":{"field":"v","type":"quantitative","scale":{"domain":[0,25.3],"range":[136,69],"nice":false,"zero":false},"axis":{"offset":3,"values":[0,10,20],"title":"τ (s)","titlePadding":2,"labelOverlap":false,"labelFlush":false}},"y2":{"datum":0}}},
    {"data":{"name":"iErr"},"transform":[{"filter":"datum.p==='t'"}],"mark":{"type":"rule","color":"black","strokeWidth":1.3},
     "encoding":{"x":{"field":"x","type":"quantitative","scale":{"domain":[0,1],"nice":false,"zero":false},"axis":null},"y":{"field":"y0","type":"quantitative","scale":{"domain":[0,25.3],"range":[136,69],"nice":false,"zero":false}},"y2":{"field":"y1"}}},
    {"data":{"name":"iCap"},"transform":[{"filter":"datum.p==='t'"}],"mark":{"type":"rule","color":"black","strokeWidth":1.3},
     "encoding":{"x":{"field":"x0","type":"quantitative","scale":{"domain":[0,1],"nice":false,"zero":false},"axis":null},"x2":{"field":"x1"},"y":{"field":"y","type":"quantitative","scale":{"domain":[0,25.3],"range":[136,69],"nice":false,"zero":false}}}},
    {"data":{"name":"iPts"},"transform":[{"filter":"datum.p==='t'"}],"mark":{"type":"point","shape":"circle","filled":true,"fill":"white","stroke":"black","strokeWidth":1,"size":54,"opacity":1},
     "encoding":{"x":{"field":"x","type":"quantitative","scale":{"domain":[0,1],"nice":false,"zero":false},"axis":null},"y":{"field":"y","type":"quantitative","scale":{"domain":[0,25.3],"range":[136,69],"nice":false,"zero":false}}}}
   ]},
  {"width":26,"height":137,
   "layer":[
    {"data":{"name":"iBar"},"transform":[{"filter":"datum.p==='p'"}],"mark":{"type":"rect","fill":"white","stroke":"black","strokeWidth":1.2},
     "encoding":{"x":{"field":"x0","type":"quantitative","scale":{"domain":[0,1],"nice":false,"zero":false},"axis":null},"x2":{"field":"x1"},
      "y":{"field":"v","type":"quantitative","scale":{"domain":[-277,0],"range":[137,69],"nice":false,"zero":false},"axis":{"offset":0,"values":[-200,-100,0],"labelExpr":"''+datum.value","title":"%","titlePadding":6,"labelOverlap":false,"labelFlush":false}},"y2":{"datum":0}}},
    {"data":{"name":"iErr"},"transform":[{"filter":"datum.p==='p'"}],"mark":{"type":"rule","color":"black","strokeWidth":1.3},
     "encoding":{"x":{"field":"x","type":"quantitative","scale":{"domain":[0,1],"nice":false,"zero":false},"axis":null},"y":{"field":"y0","type":"quantitative","scale":{"domain":[-277,0],"range":[137,69],"nice":false,"zero":false}},"y2":{"field":"y1"}}},
    {"data":{"name":"iCap"},"transform":[{"filter":"datum.p==='p'"}],"mark":{"type":"rule","color":"black","strokeWidth":1.3},
     "encoding":{"x":{"field":"x0","type":"quantitative","scale":{"domain":[0,1],"nice":false,"zero":false},"axis":null},"x2":{"field":"x1"},"y":{"field":"y","type":"quantitative","scale":{"domain":[-277,0],"range":[137,69],"nice":false,"zero":false}}}},
    {"data":{"name":"iPts"},"transform":[{"filter":"datum.p==='p'"}],"mark":{"type":"point","shape":"circle","filled":true,"fill":"white","stroke":"black","strokeWidth":1,"size":54,"opacity":1},
     "encoding":{"x":{"field":"x","type":"quantitative","scale":{"domain":[0,1],"nice":false,"zero":false},"axis":null},"y":{"field":"y","type":"quantitative","scale":{"domain":[-277,0],"range":[137,69],"nice":false,"zero":false}}}}
   ]}
 ],"spacing":63,"bounds":"flush","resolve":{"scale":{"color":"independent","fill":"independent","strokeDash":"independent"}}}
]
}
